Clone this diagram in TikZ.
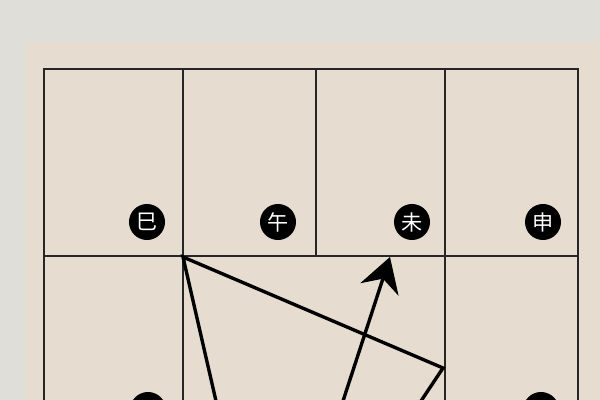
\documentclass[tikz,border=0pt]{standalone}
\usepackage{fontspec}
\newfontfamily\cjk{Noto Sans CJK SC}
\usetikzlibrary{arrows.meta}
\definecolor{wallgray}{RGB}{224,222,217}
\definecolor{paper}{RGB}{230,221,208}

\begin{document}
\begin{tikzpicture}[x=0.025cm, y=-0.025cm,
    grid/.style={line width=1.2pt, draw=black!85},
    branch/.style={circle, fill=black, text=white, inner sep=0, minimum size=0.9cm,
      font=\cjk\fontsize{15}{15}\selectfont},
    figline/.style={line width=2.4pt, line join=miter}
  ]
  \useasboundingbox (0,0) rectangle (600,400);
  \clip (0,0) rectangle (600,400);
  \fill[wallgray] (0,0) rectangle (600,400);
  \fill[paper] (25,42) rectangle (600,400);

  % palace grid
  \draw[grid] (44,69) rectangle (578,256);
  \foreach \x in {183,316,445} \draw[grid] (\x,69) -- (\x,256);
  \foreach \x in {44,183,445,578} \draw[grid] (\x,256) -- (\x,400);

  % branch labels
  \node[branch] (si) at (147,222) {巳};
  \node[branch] (wu) at (278,222) {午};
  \node[branch] (wei) at (412,222) {未};
  \node[branch] (shen) at (543,222) {申};
  \node[branch] (chen) at (148,410) {};
  \node[branch] (you) at (541,410) {};

  % lines
  \coordinate (corner) at (183,257);
  \coordinate (bend) at (443,368);
  \coordinate (footL) at (216,401);
  \coordinate (footR) at (421,401);
  \coordinate (tail) at (343,401);
  \coordinate (tip) at (390,257);
  \draw[figline] (footL) -- (corner) -- (bend) -- (footR);
  \draw[figline, -{Stealth[length=0.85cm, width=1cm, inset=0.28cm]}] (tail) -- (tip);
\end{tikzpicture}
\end{document}
